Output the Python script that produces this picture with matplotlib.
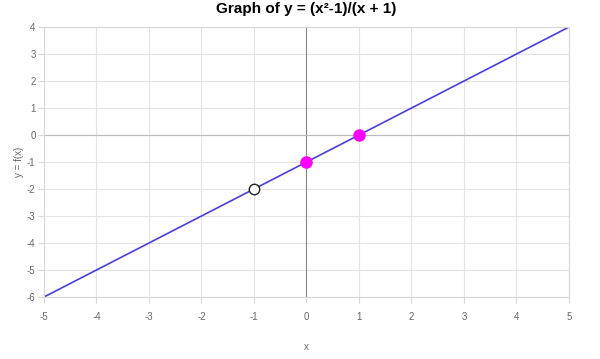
import numpy as np
import matplotlib.pyplot as plt

plt.rcParams['font.family'] = ['Liberation Sans', 'DejaVu Sans']
plt.rcParams['axes.unicode_minus'] = False

x_ticks = [-5, -4, -3, -2, -1, 0, 1, 2, 3, 4, 5]
y_ticks = [-6, -5, -4, -3, -2, -1, 0, 1, 2, 3, 4]
line_x = [-5, 5]
line_y = [-6, 4]
hole_x = [-1]
hole_y = [-2]
point_x = [0, 1]
point_y = [-1, 0]

fig = plt.figure(figsize=(6, 3.59), dpi=100)
ax = fig.add_axes([0.0733, 0.1727, 0.875, 0.752])

ax.set_xlim(-5, 5)
ax.set_ylim(-6, 4)
ax.set_xticks(x_ticks)
ax.set_yticks(y_ticks)
ax.grid(True, color='#e4e4e4', linewidth=0.8)
ax.set_axisbelow(True)
ax.axvline(0, color='#888888', linewidth=0.8, zorder=1)
ax.axhline(0, color='#bbbbbb', linewidth=0.8, zorder=1)

ax.plot(line_x, line_y, color='#4a3ee0', linewidth=1.2, zorder=2)
ax.plot(hole_x, hole_y, 'o', markersize=7.5, markerfacecolor='white',
        markeredgecolor='#222222', markeredgewidth=1.0, zorder=3)
ax.plot(point_x, point_y, 'o', markersize=8, color='#ff00ff', zorder=3)

for s in ax.spines.values():
    s.set_color('#d8d8d8')
    s.set_linewidth(0.8)
ax.tick_params(colors='#d8d8d8', labelcolor='#666666', labelsize=7,
               length=4, width=0.8)
ax.tick_params(axis='x', pad=7)
ax.tick_params(axis='y', pad=2)

ax.set_xlabel('x', fontsize=7, color='#666666', labelpad=14)
ax.set_ylabel('y = f(x)', fontsize=7, color='#666666', labelpad=2)
ax.set_title('Graph of y = (x\u00b2-1)/(x + 1)', fontsize=11,
             fontweight='bold', pad=10)

fig.savefig('out.png', dpi=100)
